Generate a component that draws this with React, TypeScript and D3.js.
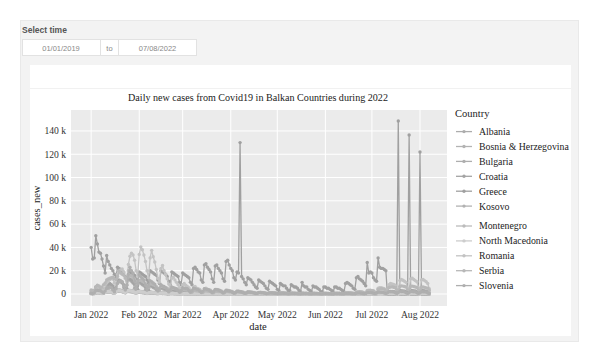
import React from 'react';
import * as d3 from 'd3';

// ---------- data (daily new cases, thousands) ----------
const DATES: Date[] = d3.timeDay.range(new Date(2022, 0, 1), new Date(2022, 7, 8));

const COUNTRIES = ['Albania', 'Bosnia & Herzegovina', 'Bulgaria', 'Croatia', 'Greece', 'Kosovo',
  'Montenegro', 'North Macedonia', 'Romania', 'Serbia', 'Slovenia'];

const ALBANIA = [
  0.8,0.6,0.9,1.5,1.8,1.6,1.2,1.0,1.5,2.4,2.6,2.8,2.5,2.2,1.6,1.8,3.0,3.3,3.4,3.2,2.8,2.0,2.0,3.2,3.3,3.1,2.8,2.4,1.6,1.5,2.2,
  2.3,2.0,1.8,1.5,1.0,0.9,1.4,1.3,1.2,1.0,0.9,0.6,0.5,0.8,0.8,0.7,0.6,0.5,0.4,0.3,0.5,0.5,0.4,0.4,0.4,0.3,0.2,0.3,
  0.4,0.3,0.3,0.3,0.2,0.1,0.2,0.3,0.3,0.2,0.2,0.2,0.1,0.2,0.2,0.2,0.2,0.2,0.1,0.1,0.1,0.2,0.2,0.2,0.1,0.1,0.1,0.1,0.1,0.1,0.1,
  0.1,0.1,0.1,0.1,0.1,0.1,0.1,0.1,0.1,0.0,0.1,0.1,0.1,0.1,0.1,0.1,0.0,0.1,0.1,0.1,0.1,0.1,0.1,0.0,0.1,0.1,0.1,0.1,0.1,0.1,
  0.0,0.1,0.1,0.1,0.1,0.1,0.1,0.0,0.1,0.1,0.1,0.1,0.1,0.1,0.0,0.1,0.1,0.1,0.1,0.1,0.1,0.0,0.1,0.1,0.1,0.1,0.1,0.1,0.0,0.1,0.1,
  0.1,0.1,0.1,0.1,0.0,0.1,0.1,0.1,0.1,0.1,0.1,0.1,0.1,0.2,0.2,0.2,0.2,0.2,0.1,0.2,0.3,0.3,0.3,0.3,0.2,0.2,0.3,0.4,0.4,0.4,
  0.4,0.3,0.2,0.4,0.5,0.6,0.6,0.5,0.4,0.3,0.6,0.7,0.7,0.7,0.6,0.5,0.4,0.7,0.8,0.9,0.8,0.8,0.6,0.5,0.8,0.9,0.9,0.8,0.8,0.6,0.5,
  0.7,0.8,0.8,0.7,0.7,0.5,0.4,
];
const BOSNIA = [
  0.3,0.2,0.3,0.9,1.0,0.8,0.5,0.4,0.5,1.5,1.6,1.7,1.5,1.4,0.9,0.7,2.0,2.4,2.6,2.4,2.2,1.4,1.0,2.3,2.9,3.0,2.7,2.4,1.5,1.0,2.0,
  2.5,2.3,2.0,1.8,1.0,0.7,1.4,1.7,1.5,1.4,1.2,0.7,0.5,1.0,1.2,1.1,1.0,0.9,0.5,0.3,0.7,0.9,0.8,0.7,0.7,0.4,0.2,0.5,
  0.7,0.6,0.6,0.5,0.3,0.2,0.4,0.5,0.5,0.4,0.4,0.2,0.1,0.3,0.4,0.4,0.3,0.3,0.2,0.1,0.2,0.3,0.3,0.3,0.3,0.1,0.1,0.2,0.3,0.2,0.2,
  0.2,0.1,0.1,0.1,0.2,0.2,0.2,0.2,0.1,0.1,0.1,0.2,0.2,0.2,0.1,0.1,0.0,0.1,0.1,0.1,0.1,0.1,0.1,0.0,0.1,0.1,0.1,0.1,0.1,0.1,
  0.0,0.0,0.1,0.1,0.1,0.1,0.1,0.0,0.0,0.1,0.1,0.1,0.1,0.1,0.0,0.0,0.1,0.1,0.1,0.1,0.1,0.0,0.0,0.1,0.1,0.1,0.1,0.0,0.0,0.0,0.1,
  0.1,0.1,0.1,0.0,0.0,0.1,0.1,0.1,0.1,0.1,0.0,0.0,0.1,0.1,0.1,0.1,0.1,0.0,0.0,0.1,0.1,0.2,0.1,0.1,0.1,0.0,0.1,0.2,0.2,0.2,
  0.2,0.1,0.1,0.2,0.3,0.3,0.3,0.3,0.2,0.1,0.3,0.4,0.4,0.4,0.4,0.2,0.1,0.4,0.5,0.5,0.5,0.5,0.3,0.2,0.5,0.6,0.6,0.6,0.5,0.3,0.2,
  0.5,0.6,0.6,0.6,0.5,0.3,0.2,
];
const BULGARIA = [
  0.8,0.4,0.9,3.0,3.8,3.5,2.5,1.8,1.2,4.5,6.5,7.0,7.5,6.0,3.5,2.2,6.0,10.0,12.0,11.5,10.0,5.5,3.8,8.0,12.5,12.0,11.0,9.5,5.0,3.0,7.0,
  10.0,9.0,8.0,7.0,3.5,2.0,5.0,7.0,6.5,5.5,5.0,2.5,1.5,3.5,5.0,4.5,4.0,3.5,1.8,1.0,2.5,3.6,3.3,3.0,2.6,1.3,0.8,2.0,
  2.8,2.6,2.4,2.2,1.1,0.6,1.5,2.2,2.0,1.9,1.7,0.9,0.5,1.2,1.8,1.7,1.6,1.4,0.7,0.4,1.0,1.5,1.4,1.3,1.2,0.6,0.3,0.9,1.3,1.2,1.1,
  1.0,0.5,0.3,0.7,1.0,1.0,0.9,0.8,0.4,0.2,0.6,0.9,0.8,0.8,0.7,0.3,0.2,0.5,0.7,0.7,0.6,0.6,0.3,0.1,0.4,0.6,0.5,0.5,0.5,0.2,
  0.1,0.3,0.5,0.4,0.4,0.4,0.2,0.1,0.3,0.4,0.4,0.3,0.3,0.1,0.1,0.2,0.3,0.3,0.3,0.3,0.1,0.1,0.2,0.3,0.3,0.2,0.2,0.1,0.1,0.2,0.3,
  0.3,0.2,0.2,0.1,0.1,0.2,0.3,0.3,0.3,0.3,0.1,0.1,0.3,0.4,0.4,0.4,0.4,0.2,0.1,0.4,0.6,0.6,0.6,0.5,0.3,0.1,0.5,0.8,0.9,0.9,
  0.8,0.4,0.2,0.7,1.2,1.3,1.2,1.1,0.5,0.3,1.0,1.7,1.8,1.8,1.7,0.8,0.4,1.4,2.3,2.4,2.3,2.1,1.0,0.5,1.8,2.6,2.7,2.5,2.4,1.1,0.6,
  2.0,2.8,2.9,2.7,2.5,1.2,0.6,
];
const CROATIA = [
  2.5,1.8,2.0,6.0,5.5,6.5,5.0,4.5,3.0,3.5,9.5,8.5,9.0,8.0,7.0,4.5,4.0,12.0,11.0,10.5,9.5,8.0,5.0,4.5,14.5,13.0,12.0,10.0,8.5,5.5,4.0,
  11.5,10.0,9.0,8.0,6.5,3.5,3.0,8.0,7.5,6.5,6.0,5.0,2.5,2.0,6.0,5.5,5.0,4.5,3.5,1.8,1.5,4.5,4.0,3.7,3.3,2.8,1.4,1.1,
  3.5,3.2,3.0,2.7,2.2,1.1,0.9,2.9,2.7,2.5,2.3,1.9,1.0,0.8,2.6,2.5,2.3,2.1,1.7,0.9,0.7,2.4,2.2,2.0,1.9,1.6,0.8,0.6,2.0,1.9,1.8,
  1.6,1.3,0.6,0.5,1.6,1.6,1.5,1.3,1.1,0.5,0.4,1.3,1.2,1.1,1.0,0.8,0.3,0.2,0.6,0.9,0.9,0.8,0.7,0.3,0.2,0.8,0.8,0.7,0.6,0.5,
  0.4,0.2,0.1,0.6,0.6,0.5,0.5,0.4,0.2,0.1,0.5,0.5,0.4,0.4,0.3,0.1,0.1,0.4,0.4,0.4,0.3,0.3,0.1,0.1,0.3,0.3,0.3,0.3,0.2,0.1,0.1,
  0.3,0.3,0.3,0.2,0.1,0.1,0.3,0.3,0.3,0.3,0.2,0.1,0.1,0.4,0.4,0.4,0.4,0.3,0.1,0.1,0.6,0.6,0.6,0.6,0.5,0.2,0.2,1.0,1.0,1.0,
  0.9,0.8,0.4,0.3,1.5,1.5,1.5,1.4,1.2,0.6,0.5,2.2,2.2,2.1,2.0,1.8,0.8,0.6,2.8,2.7,2.6,2.5,2.2,1.0,0.8,2.9,2.8,2.6,2.5,2.2,1.0,
  0.8,2.7,2.6,2.4,2.3,2.0,0.9,
];
const GREECE = [
  40,30,31,50,43,36,35,30,24,18,33,28,25,22,20,17,14,23,22,21,19,18,15,12,20,19,18,17,16,13,10,
  19,18,17,16,15,12,9,20,19,18,17,16,12,9,20,19,18,17,15,11,8,19,18,17,16,15,10,8,
  18,17,16,15,14,10,8,22,23,21,19,18,12,10,25,26,23,21,19,13,10,24,25,22,20,18,13,11,28,29,25,
  22,20,14,12,19,18,130,15,13,10,8,14,13,12,10,8,6,5,12,11,10,9,7,5,4,11,10,9,8,7,
  4,3,9,8,7,7,5,3,3,8,7,6,6,5,3,2,10,7,6,6,4,3,2,7,6,6,5,4,2,2,6,
  6,5,5,4,3,2,6,6,5,5,4,3,2,9,10,9,8,7,5,4,14,15,13,12,11,9,7,27,18,19,
  18,14,12,11,31,23,22,22,21,20,0,0,0,0,0,0,0,148.5,0,0,0,0,0,0,136.5,0,0,0,0,0,0,
  122,0,0,0,0,0,0,
];
const KOSOVO = [
  0.3,0.2,0.4,0.9,1.2,1.3,1.0,0.9,0.7,1.5,2.0,2.3,2.4,2.2,1.8,1.2,2.5,2.9,3.0,2.7,2.4,1.7,1.2,2.2,2.5,2.3,2.0,1.7,1.2,0.8,1.5,
  1.6,1.4,1.2,1.0,0.7,0.5,0.8,0.9,0.8,0.7,0.6,0.4,0.3,0.5,0.5,0.4,0.4,0.3,0.2,0.1,0.3,0.3,0.3,0.2,0.2,0.1,0.1,0.2,
  0.2,0.2,0.1,0.1,0.1,0.1,0.1,0.1,0.1,0.1,0.1,0.1,0.0,0.1,0.1,0.1,0.1,0.1,0.0,0.0,0.1,0.1,0.1,0.1,0.0,0.0,0.0,0.1,0.1,0.0,0.0,
  0.0,0.0,0.0,0.0,0.1,0.0,0.0,0.0,0.0,0.0,0.0,0.1,0.0,0.0,0.0,0.0,0.0,0.0,0.0,0.0,0.0,0.0,0.0,0.0,0.0,0.0,0.0,0.0,0.0,0.0,
  0.0,0.0,0.0,0.0,0.0,0.0,0.0,0.0,0.0,0.0,0.0,0.0,0.0,0.0,0.0,0.0,0.0,0.0,0.0,0.0,0.0,0.0,0.0,0.0,0.0,0.0,0.0,0.0,0.0,0.0,0.0,
  0.0,0.0,0.0,0.0,0.0,0.0,0.0,0.0,0.0,0.0,0.0,0.0,0.0,0.0,0.0,0.0,0.0,0.0,0.0,0.0,0.1,0.1,0.1,0.1,0.1,0.0,0.0,0.1,0.1,0.1,
  0.1,0.1,0.0,0.1,0.2,0.2,0.2,0.2,0.1,0.1,0.1,0.3,0.3,0.3,0.3,0.2,0.1,0.2,0.3,0.3,0.3,0.3,0.2,0.1,0.2,0.3,0.3,0.3,0.3,0.2,0.1,
  0.2,0.3,0.3,0.3,0.2,0.1,0.1,
];
const MONTENEGRO = [
  0.4,0.3,0.5,0.9,1.1,1.0,0.8,0.6,0.5,1.3,1.6,1.8,1.7,1.5,1.1,0.8,1.9,2.3,2.5,2.3,2.0,1.4,1.0,2.0,2.2,2.0,1.8,1.5,1.0,0.7,1.3,
  1.4,1.2,1.1,1.0,0.6,0.4,0.8,0.9,0.8,0.7,0.6,0.4,0.3,0.5,0.5,0.4,0.4,0.3,0.2,0.1,0.3,0.3,0.3,0.2,0.2,0.1,0.1,0.2,
  0.2,0.2,0.2,0.1,0.1,0.1,0.1,0.1,0.1,0.1,0.1,0.1,0.0,0.1,0.1,0.1,0.1,0.1,0.0,0.0,0.1,0.1,0.1,0.1,0.0,0.0,0.0,0.1,0.1,0.1,0.0,
  0.1,0.0,0.0,0.1,0.1,0.1,0.1,0.1,0.0,0.0,0.1,0.1,0.1,0.1,0.1,0.0,0.0,0.1,0.1,0.1,0.1,0.0,0.0,0.0,0.1,0.1,0.1,0.0,0.0,0.0,
  0.0,0.0,0.1,0.1,0.0,0.0,0.0,0.0,0.0,0.1,0.1,0.0,0.0,0.0,0.0,0.0,0.1,0.1,0.0,0.0,0.0,0.0,0.0,0.1,0.1,0.1,0.0,0.0,0.0,0.0,0.1,
  0.1,0.1,0.1,0.0,0.0,0.1,0.1,0.1,0.1,0.1,0.0,0.0,0.1,0.2,0.2,0.2,0.2,0.1,0.0,0.2,0.3,0.3,0.3,0.3,0.2,0.1,0.2,0.4,0.4,0.4,
  0.4,0.3,0.1,0.3,0.5,0.6,0.6,0.5,0.3,0.2,0.5,0.7,0.7,0.7,0.6,0.4,0.2,0.6,0.8,0.8,0.7,0.7,0.4,0.2,0.6,0.8,0.8,0.7,0.7,0.4,0.2,
  0.6,0.7,0.7,0.6,0.6,0.4,0.2,
];
const NORTH_MACEDONIA = [
  0.5,0.3,0.4,1.1,1.4,1.3,0.9,0.8,0.6,1.5,1.9,2.1,2.0,1.8,1.4,0.9,2.2,2.8,3.0,2.8,2.5,1.8,1.2,2.4,3.0,2.9,2.6,2.2,1.6,1.0,2.0,
  2.2,2.0,1.8,1.6,1.2,0.7,1.1,1.4,1.3,1.2,1.0,0.8,0.4,0.7,0.9,0.8,0.7,0.6,0.5,0.2,0.5,0.6,0.5,0.5,0.4,0.3,0.1,0.3,
  0.4,0.4,0.3,0.3,0.2,0.1,0.2,0.3,0.3,0.3,0.2,0.2,0.1,0.2,0.3,0.2,0.2,0.2,0.1,0.1,0.1,0.2,0.2,0.2,0.1,0.1,0.0,0.1,0.2,0.1,0.1,
  0.1,0.1,0.0,0.1,0.1,0.1,0.1,0.1,0.1,0.0,0.1,0.1,0.1,0.1,0.1,0.1,0.0,0.1,0.1,0.1,0.1,0.1,0.0,0.0,0.1,0.1,0.1,0.1,0.1,0.0,
  0.0,0.1,0.1,0.1,0.1,0.1,0.0,0.0,0.1,0.1,0.1,0.1,0.0,0.0,0.0,0.1,0.1,0.1,0.1,0.0,0.0,0.0,0.1,0.1,0.1,0.1,0.0,0.0,0.0,0.1,0.1,
  0.1,0.1,0.1,0.0,0.0,0.1,0.1,0.1,0.1,0.1,0.0,0.0,0.1,0.1,0.1,0.1,0.1,0.0,0.0,0.2,0.2,0.2,0.2,0.2,0.1,0.1,0.2,0.3,0.3,0.3,
  0.3,0.2,0.1,0.3,0.4,0.4,0.4,0.4,0.2,0.1,0.4,0.5,0.5,0.5,0.5,0.3,0.2,0.5,0.6,0.6,0.6,0.5,0.3,0.2,0.5,0.6,0.6,0.6,0.5,0.3,0.2,
  0.5,0.6,0.6,0.5,0.5,0.3,0.2,
];
const ROMANIA = [
  1.0,0.8,1.4,3.1,4.6,6.0,5.3,4.4,3.1,5.2,9.4,11.0,12.5,13.2,12.8,9.6,8.9,16.8,19.5,20.7,21.5,19.2,13.4,10.5,25.4,32.4,35.0,33.5,29.0,20.0,15.5,
  34.0,40.5,38.0,33.5,28.0,20.0,14.0,31.0,37.5,32.0,27.5,21.0,13.5,10.0,22.0,24.5,20.0,17.0,13.0,8.5,6.0,13.5,14.5,12.0,10.0,8.0,5.5,3.5,
  8.0,9.0,7.5,6.5,5.5,3.5,2.5,6.0,6.5,5.0,4.5,4.0,2.5,1.8,4.5,5.0,4.2,3.8,3.2,2.2,1.5,3.8,4.0,3.5,3.0,2.6,1.6,1.2,3.0,3.2,2.8,
  2.5,2.2,1.4,1.0,2.5,2.6,2.3,2.0,1.7,1.0,0.8,1.9,2.0,1.8,1.5,1.3,0.7,0.5,1.4,1.5,1.3,1.1,1.0,0.5,0.4,1.1,1.1,1.0,0.9,0.8,
  0.5,0.3,0.8,0.8,0.7,0.6,0.5,0.3,0.2,0.7,0.7,0.6,0.5,0.5,0.3,0.2,0.6,0.6,0.5,0.5,0.4,0.2,0.2,0.6,0.6,0.5,0.5,0.4,0.2,0.2,0.6,
  0.6,0.5,0.4,0.3,0.2,0.2,0.7,0.7,0.7,0.6,0.5,0.3,0.3,1.0,1.1,1.0,1.0,0.9,0.5,0.4,1.6,1.8,1.8,1.7,1.5,0.8,0.7,3.0,3.3,3.2,
  3.0,2.7,1.5,1.2,5.0,5.5,5.4,5.0,4.5,2.4,2.0,8.0,9.0,8.7,8.3,7.5,4.0,3.0,11.5,12.5,11.8,11.0,10.0,5.0,4.0,13.0,13.5,12.5,11.5,10.5,5.5,
  4.2,12.0,12.5,11.5,10.5,9.0,4.5,
];
const SERBIA = [
  3.5,3.0,3.2,6.0,7.5,7.0,5.5,6.0,8.0,9.5,12.0,13.0,13.5,14.0,14.5,13.0,12.5,15.0,19.5,18.0,17.0,16.0,14.0,12.0,14.5,16.0,15.5,14.0,13.0,11.0,9.0,
  11.5,12.0,11.0,10.0,9.0,7.0,5.5,8.5,8.5,8.0,7.5,6.5,5.0,3.5,6.5,6.5,6.0,5.5,5.0,4.0,3.0,5.0,5.0,4.5,4.2,3.8,2.8,2.0,
  3.8,3.6,3.4,3.2,2.8,2.0,1.5,3.0,3.0,2.8,2.6,2.4,1.7,1.2,2.6,2.7,2.5,2.3,2.1,1.5,1.1,2.4,2.4,2.2,2.1,1.9,1.3,1.0,2.2,2.2,2.0,
  1.9,1.7,1.2,0.9,1.8,1.8,1.7,1.5,1.4,1.0,0.7,1.5,1.5,1.3,1.2,1.1,0.8,0.6,1.2,1.3,1.2,1.1,1.0,0.7,0.5,1.1,1.1,1.0,0.9,0.8,
  0.6,0.4,0.9,0.9,0.8,0.8,0.7,0.5,0.3,0.8,0.8,0.7,0.7,0.6,0.4,0.3,0.7,0.7,0.6,0.6,0.5,0.4,0.3,0.6,0.6,0.6,0.5,0.5,0.3,0.2,0.6,
  0.6,0.6,0.5,0.4,0.3,0.2,0.7,0.7,0.7,0.6,0.5,0.4,0.3,1.0,1.1,1.1,1.0,0.9,0.6,0.5,1.6,1.8,1.9,1.8,1.6,1.0,0.8,2.6,2.9,3.0,
  2.8,2.6,1.6,1.3,4.0,4.4,4.6,4.3,4.0,2.6,2.0,5.5,6.0,6.2,5.8,5.4,3.4,2.8,6.5,7.0,6.8,6.4,6.0,3.8,3.0,6.6,6.8,6.5,6.0,5.6,3.5,
  2.8,5.8,6.0,5.7,5.3,4.9,3.0,
];
const SLOVENIA = [
  0.5,0.4,0.8,2.8,3.2,3.0,2.8,1.8,0.9,2.5,5.0,5.5,5.8,5.5,3.5,1.8,4.5,9.0,10.5,11.0,10.5,7.0,3.5,7.5,17.0,23.0,20.0,18.0,11.0,5.0,9.0,
  16.5,15.0,13.5,12.0,7.5,3.5,6.5,11.5,10.5,9.5,8.5,5.0,2.5,4.5,8.0,7.0,6.5,5.5,3.5,1.8,3.5,6.0,5.5,5.0,4.5,3.0,1.5,3.0,
  5.5,5.0,4.8,4.5,3.0,1.5,2.8,5.0,4.5,4.2,3.8,2.6,1.2,2.5,4.5,4.2,3.9,3.5,2.4,1.1,2.2,4.0,3.7,3.4,3.0,2.0,0.9,1.8,3.2,2.9,2.6,
  2.4,1.5,0.7,1.3,2.4,2.2,2.0,1.8,1.1,0.5,1.0,1.8,1.6,1.5,1.3,0.8,0.3,0.5,1.2,1.2,1.1,1.0,0.6,0.2,0.5,1.0,0.9,0.8,0.7,0.4,
  0.2,0.4,0.7,0.6,0.6,0.5,0.3,0.1,0.3,0.5,0.5,0.4,0.4,0.2,0.1,0.2,0.4,0.4,0.3,0.3,0.2,0.1,0.2,0.3,0.3,0.3,0.2,0.1,0.1,0.1,0.3,
  0.3,0.3,0.2,0.1,0.1,0.1,0.3,0.3,0.3,0.3,0.1,0.1,0.2,0.5,0.5,0.5,0.4,0.2,0.1,0.3,0.7,0.8,0.8,0.7,0.4,0.2,0.5,1.2,1.2,1.2,
  1.1,0.6,0.3,0.8,1.6,1.6,1.5,1.4,0.8,0.4,1.0,2.0,2.0,1.9,1.8,1.0,0.5,1.3,2.3,2.2,2.1,2.0,1.1,0.5,1.2,2.2,2.1,2.0,1.9,1.0,0.5,
  1.1,2.0,1.9,1.8,1.7,0.9,0.4,
];

const SERIES = [ALBANIA, BOSNIA, BULGARIA, CROATIA, GREECE, KOSOVO, MONTENEGRO, NORTH_MACEDONIA, ROMANIA, SERBIA, SLOVENIA];
const COLORS = ['#acacac', '#b3b3b3', '#aeaeae', '#a4a4a4', '#a0a0a0', '#b2b2b2',
  '#bcbcbc', '#cdcdcd', '#c3c3c3', '#b8b8b8', '#afafaf'];

const Y_TICKS = [0, 20000, 40000, 60000, 80000, 100000, 120000, 140000];
const Y_TICK_LABELS = ['0', '20 k', '40 k', '60 k', '80 k', '100 k', '120 k', '140 k'];
const X_TICKS = [new Date(2022, 0, 1), new Date(2022, 1, 1), new Date(2022, 2, 1), new Date(2022, 3, 1),
  new Date(2022, 4, 1), new Date(2022, 5, 1), new Date(2022, 6, 1), new Date(2022, 7, 1)];
const X_TICK_LABELS = ['Jan 2022', 'Feb 2022', 'Mar 2022', 'Apr 2022', 'May 2022', 'Jun 2022', 'Jul 2022', 'Aug 2022'];

const TITLE = 'Daily new cases from Covid19 in Balkan Countries during 2022';

// ---------- layout ----------
const W = 600, H = 363;
const P = { left: 71, right: 447, top: 110, bottom: 306 };
const SERIF = "'Liberation Serif', 'Times New Roman', serif";
const SANS = "'Liberation Sans', Arial, sans-serif";

export default function App() {
  const x = d3.scaleTime()
    .domain([new Date(2021, 11, 19), new Date(2022, 7, 18, 10)])
    .range([P.left, P.right]);
  const y = d3.scaleLinear().domain([-10300, 158000]).range([P.bottom, P.top]);

  const line = d3.line<number>()
    .x((_, i) => x(DATES[i]))
    .y((v) => y(v * 1000));

  return (
    <svg width={W} height={H} style={{ position: 'absolute', left: 0, top: 0, display: 'block' }}>
      <defs>
        <clipPath id="plotclip">
          <rect x={P.left} y={P.top} width={P.right - P.left} height={P.bottom - P.top} />
        </clipPath>
      </defs>
      <rect x={0} y={0} width={W} height={H} fill="#ffffff" />
      <rect x={20.5} y={20.5} width={558} height={321} fill="#f3f3f3" stroke="#e9e9e9" />

      {/* date range control */}
      <text x={22} y={33} fontFamily={SANS} fontSize={8.5} fontWeight="bold" fill="#555">Select time</text>
      <rect x={22.5} y={39.5} width={174} height={16} fill="#fff" stroke="#e2e2e2" />
      <line x1={100.5} x2={100.5} y1={39.5} y2={55.5} stroke="#e2e2e2" />
      <line x1={118.5} x2={118.5} y1={39.5} y2={55.5} stroke="#e2e2e2" />
      <text x={61} y={50.5} textAnchor="middle" fontFamily={SANS} fontSize={7.5} fill="#888">01/01/2019</text>
      <text x={109.5} y={50.5} textAnchor="middle" fontFamily={SANS} fontSize={7.5} fill="#888">to</text>
      <text x={157.5} y={50.5} textAnchor="middle" fontFamily={SANS} fontSize={7.5} fill="#888">07/08/2022</text>

      {/* white card */}
      <rect x={30} y={65} width={541} height={271} fill="#ffffff" />
      <line x1={30} x2={571} y1={88.5} y2={88.5} stroke="#f1f1f1" />

      {/* title */}
      <text x={258} y={101} textAnchor="middle" fontFamily={SERIF} fontSize={10.1} fill="#1a1a1a">{TITLE}</text>

      {/* panel */}
      <rect x={P.left} y={P.top} width={P.right - P.left} height={P.bottom - P.top} fill="#ebebeb" />
      {Y_TICKS.map((t) => (
        <line key={'gy' + t} x1={P.left} x2={P.right} y1={y(t)} y2={y(t)} stroke="#ffffff" strokeWidth={1} />
      ))}
      {X_TICKS.map((t, i) => (
        <line key={'gx' + i} x1={x(t)} x2={x(t)} y1={P.top} y2={P.bottom} stroke="#ffffff" strokeWidth={1} />
      ))}

      <g clipPath="url(#plotclip)">
        {SERIES.map((s, si) => (
          <g key={COUNTRIES[si]}>
            <path d={line(s) || ''} fill="none" stroke={COLORS[si]} strokeWidth={1.3} strokeLinejoin="round" />
            {s.map((v, i) => (
              <circle key={i} cx={x(DATES[i])} cy={y(v * 1000)} r={1.7} fill={COLORS[si]} />
            ))}
          </g>
        ))}
      </g>

      {/* axes labels */}
      {Y_TICKS.map((t, i) => (
        <text key={'ty' + t} x={66} y={y(t) + 3.3} textAnchor="end" fontFamily={SERIF} fontSize={9.6} fill="#333">
          {Y_TICK_LABELS[i]}
        </text>
      ))}
      {X_TICKS.map((t, i) => (
        <text key={'tx' + i} x={x(t)} y={318} textAnchor="middle" fontFamily={SERIF} fontSize={9.6} fill="#333">
          {X_TICK_LABELS[i]}
        </text>
      ))}
      <text x={258} y={330} textAnchor="middle" fontFamily={SERIF} fontSize={10.5} fill="#222">date</text>
      <text transform={`translate(40,208) rotate(-90)`} textAnchor="middle" fontFamily={SERIF} fontSize={10.5} fill="#222">cases_new</text>

      {/* legend */}
      <text x={455} y={117} fontFamily={SERIF} fontSize={10.5} fill="#222">Country</text>
      {COUNTRIES.map((c, i) => {
        const cy = 131.6 + i * 14.9 + (i >= 6 ? 5 : 0);
        return (
          <g key={'lg' + c}>
            <line x1={456} x2={472} y1={cy} y2={cy} stroke={COLORS[i]} strokeWidth={1.3} />
            <circle cx={464} cy={cy} r={1.7} fill={COLORS[i]} />
            <text x={479} y={cy + 3.4} fontFamily={SERIF} fontSize={9.8} fill="#222">{c}</text>
          </g>
        );
      })}
    </svg>
  );
}
